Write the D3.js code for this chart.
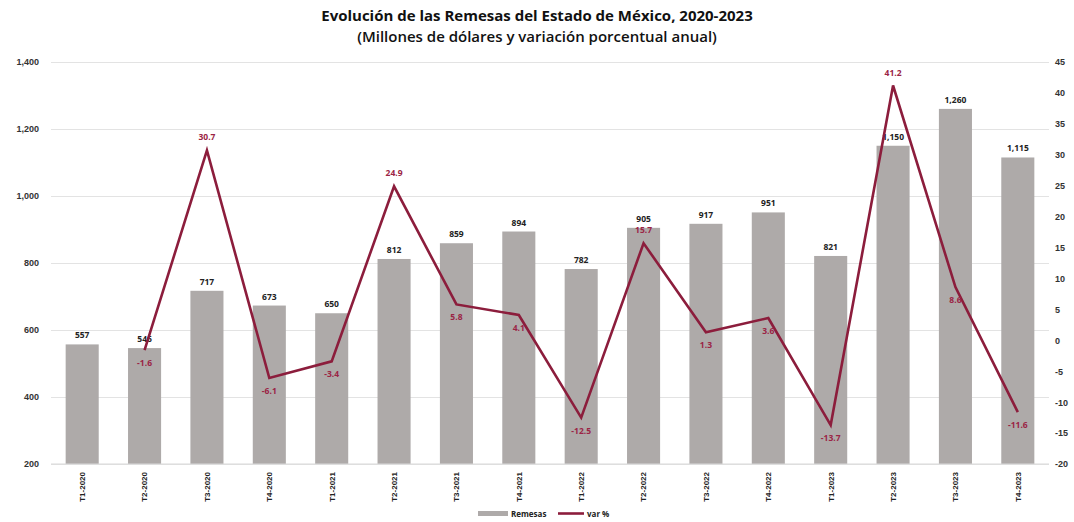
<!DOCTYPE html>
<html>
<head>
<meta charset="utf-8">
<script src="https://cdn.jsdelivr.net/npm/d3@7"></script>
<style>
  body { margin: 0; background: #fff; font-family: "Open Sans", "DejaVu Sans", sans-serif; }
  .grid line { stroke: #e3e3e3; }
  .axis text { font-size: 9px; font-weight: bold; fill: #333; }
</style>
</head>
<body>
<div class="chart"></div>
<script>
// data
const trimestres = ["T1-2020","T2-2020","T3-2020","T4-2020","T1-2021","T2-2021","T3-2021","T4-2021",
                    "T1-2022","T2-2022","T3-2022","T4-2022","T1-2023","T2-2023","T3-2023","T4-2023"];
const remesas = [557, 546, 717, 673, 650, 812, 859, 894, 782, 905, 917, 951, 821, 1150, 1260, 1115];
const variacion = [null, -1.6, 30.7, -6.1, -3.4, 24.9, 5.8, 4.1, -12.5, 15.7, 1.3, 3.6, -13.7, 41.2, 8.6, -11.6];
const leftTicks = [200, 400, 600, 800, 1000, 1200, 1400];
const rightTicks = [-20, -15, -10, -5, 0, 5, 10, 15, 20, 25, 30, 35, 40, 45];

var W = 1074, H = 522;
var margin = {top: 62, right: 25, bottom: 58, left: 51},
    width = W - margin.left - margin.right,
    height = H - margin.top - margin.bottom;

// plain hyphen for negatives, as in the original
var hy = f => (d => f(d).replace("\u2212", "-"));

var root = d3.select(".chart").append("svg")
    .attr("width", W).attr("height", H);

root.append("text")
    .attr("x", 537).attr("y", 21)
    .attr("text-anchor", "middle")
    .style("font-size", "15px").style("font-weight", "bold").style("fill", "#111")
    .text("Evolución de las Remesas del Estado de México, 2020-2023");
root.append("text")
    .attr("x", 537).attr("y", 42)
    .attr("text-anchor", "middle")
    .style("font-size", "15px").style("font-weight", "600").style("fill", "#111")
    .text("(Millones de dólares y variación porcentual anual)");

var svg = root.append("g")
    .attr("transform", "translate(" + margin.left + "," + margin.top + ")");

var x = d3.scaleBand().domain(trimestres).range([0, width]).paddingInner(0.47).paddingOuter(0.235);
var y = d3.scaleLinear().domain([200, 1400]).range([height, 0]);
var y2 = d3.scaleLinear().domain([-20, 45]).range([height, 0]);

// gridlines
svg.append("g")
   .attr("class", "grid")
   .call(d3.axisLeft(y).tickValues(leftTicks).tickSize(-width).tickFormat(""))
   .call(g => g.select(".domain").remove());

// axes
svg.append("g")
   .attr("class", "axis")
   .call(d3.axisLeft(y).tickValues(leftTicks).tickSize(0).tickPadding(12).tickFormat(d3.format(",")))
   .call(g => g.select(".domain").remove());

svg.append("g")
   .attr("class", "axis")
   .attr("transform", "translate(" + width + ",0)")
   .call(d3.axisRight(y2).tickValues(rightTicks).tickSize(0).tickPadding(6).tickFormat(hy(d3.format("d"))))
   .call(g => g.select(".domain").remove());

// bars
svg.selectAll(".bar")
   .data(remesas)
   .enter().append("rect")
   .attr("x", (d, i) => x(trimestres[i]))
   .attr("y", d => y(d))
   .attr("width", x.bandwidth())
   .attr("height", d => height - y(d))
   .attr("fill", "#aeaaa9");

svg.append("line")
   .attr("x1", 0).attr("x2", width)
   .attr("y1", height).attr("y2", height)
   .attr("stroke", "#d9d9d9");

svg.selectAll(".barlabel")
   .data(remesas)
   .enter().append("text")
   .attr("x", (d, i) => x(trimestres[i]) + x.bandwidth() / 2)
   .attr("y", d => y(d) - 6)
   .attr("text-anchor", "middle")
   .style("font-size", "8.5px").style("font-weight", "bold").style("fill", "#222")
   .text(d => d3.format(",")(d));

// x labels
svg.append("g")
   .attr("transform", "translate(0," + height + ")")
   .call(d3.axisBottom(x).tickSize(0).tickPadding(0))
   .call(g => g.select(".domain").remove())
   .call(g => g.selectAll("text")
       .attr("transform", "rotate(-90)")
       .attr("x", -8).attr("y", 0).attr("dy", "0.35em")
       .attr("text-anchor", "end")
       .style("font-size", "8px").style("font-weight", "bold").style("fill", "#222"));

// line
var pts = variacion.map((v, i) => ({t: trimestres[i], v: v})).filter(d => d.v !== null);
var line = d3.line()
    .x(d => x(d.t) + x.bandwidth() / 2)
    .y(d => y2(d.v));

svg.append("path")
   .attr("d", line(pts))
   .attr("fill", "none")
   .attr("stroke", "#8c1d3c")
   .attr("stroke-width", 2.6)
   .attr("stroke-linejoin", "miter");

var above = [30.7, 24.9, 15.7, 41.2];
var fmt = hy(d3.format(".1f"));
svg.selectAll(".varlabel")
   .data(pts)
   .enter().append("text")
   .attr("x", d => x(d.t) + x.bandwidth() / 2)
   .attr("y", d => above.includes(d.v) ? y2(d.v) - 10 : y2(d.v) + 16)
   .attr("text-anchor", "middle")
   .style("font-size", "8.5px").style("font-weight", "bold").style("fill", "#9b2445")
   .text(d => fmt(d.v));

// legend
var leg = root.append("g").attr("transform", "translate(478,515)");
leg.append("rect").attr("x", 0).attr("y", -4).attr("width", 30).attr("height", 5).attr("fill", "#aeaaa9");
leg.append("text").attr("x", 33).attr("y", 0).attr("dy", "0.2em")
   .style("font-size", "8px").style("font-weight", "bold").style("fill", "#222").text("Remesas");
leg.append("line").attr("x1", 80).attr("x2", 106).attr("y1", -1.5).attr("y2", -1.5)
   .attr("stroke", "#8c1d3c").attr("stroke-width", 2.6);
leg.append("text").attr("x", 109).attr("y", 0).attr("dy", "0.2em")
   .style("font-size", "8px").style("font-weight", "bold").style("fill", "#222").text("var %");
</script>
</body>
</html>
